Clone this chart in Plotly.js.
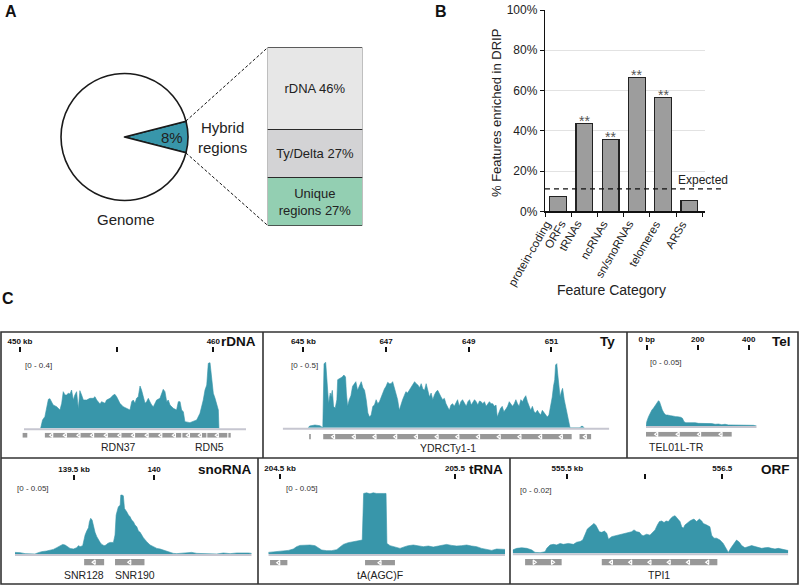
<!DOCTYPE html>
<html><head><meta charset="utf-8">
<script src="https://cdn.plot.ly/plotly-3.0.1.min.js"></script>
<style>html,body{margin:0;padding:0;background:#fff;} #chart{width:800px;height:586px;}</style>
</head><body><div id="chart"></div>
<script>
// ---------------- Panel A data ----------------
const genomeLabels = ['Hybrid regions', 'Rest of genome'];
const genomeValues = [8, 92];
const genomeText = '8%';
const hybridCats = ['Unique regions', 'Ty/Delta', 'rDNA'];
const hybridValues = [27, 27, 46];
const hybridText = ['Unique<br>regions 27%', 'Ty/Delta 27%', 'rDNA 46%'];

// ---------------- Panel B data ----------------
const featureCats = ['protein-coding<br>ORFs', 'tRNAs', 'ncRNAs', 'sn/snoRNAs', 'telomeres', 'ARSs'];
const featurePct = [7.3, 43.7, 35.8, 66.6, 56.6, 5.3];
const featureSig = ['', '**', '**', '**', '**', ''];
const expectedPct = 11.1;
const pctTicks = [0, 20, 40, 60, 80, 100];

// ---------------- Panel C data ----------------
const rdnaKb = [451.07,451.17,451.29,451.47,451.55,451.64,451.72,451.90,452.07,452.16,452.24,452.33,452.41,452.50,452.59,452.67,452.76,452.84,452.93,453.02,453.10,453.19,453.28,453.45,453.62,453.79,453.88,453.97,454.14,454.22,454.40,454.48,454.66,454.83,454.91,455.00,455.09,455.17,455.34,455.52,455.69,455.78,455.86,455.95,456.03,456.12,456.21,456.29,456.38,456.47,456.55,456.64,456.72,456.81,456.90,456.98,457.07,457.24,457.33,457.41,457.50,457.59,457.67,457.76,457.93,458.10,458.19,458.28,458.36,458.45,458.53,458.79,459.14,459.31,459.48,459.57,459.66,459.74,459.83,459.91,460.00,460.09,460.17,460.26,460.29];
const rdnaSignal = [0,0.05,0.07,0.174,0.178,0.16,0.14,0.13,0.11,0.15,0.22,0.20,0.20,0.21,0.206,0.23,0.17,0.20,0.22,0.116,0.226,0.20,0.17,0.17,0.18,0.18,0.19,0.17,0.146,0.16,0.15,0.17,0.18,0.20,0.204,0.19,0.17,0.15,0.13,0.12,0.11,0.16,0.17,0.15,0.18,0.19,0.254,0.23,0.18,0.15,0.16,0.18,0.16,0.14,0.13,0.15,0.17,0.18,0.21,0.234,0.22,0.16,0.17,0.14,0.12,0.11,0.16,0.16,0.11,0.10,0.04,0.034,0.05,0.09,0.17,0.23,0.26,0.39,0.394,0.29,0.21,0.18,0.14,0.11,0];
const rdnaTickVals = [450, 455, 460];
const rdnaTickText = ['450 kb', '', '460'];
const rdnaGeneStart = [450.14, 451.29, 458.40, 459.69, 460.78];
const rdnaGeneEnd = [450.38, 458.34, 459.64, 460.72, 460.90];
const rdnaGeneStrand = ['', '-', '-', '-', ''];
const rdnaLabels = ['RDN37', 'RDN5'];
const rdnaLabelKb = [455.09, 459.79];

const tyKb = [645.12,645.15,645.28,645.40,645.47,645.50,645.54,645.56,645.59,645.61,645.65,645.67,645.70,645.73,645.77,645.81,645.83,645.89,645.94,645.98,646.02,646.04,646.07,646.11,646.15,646.19,646.23,646.27,646.31,646.35,646.40,646.44,646.48,646.52,646.56,646.60,646.64,646.68,646.72,646.76,646.80,646.84,646.88,646.92,646.96,647.00,647.04,647.08,647.12,647.16,647.20,647.24,647.28,647.32,647.36,647.40,647.44,647.48,647.52,647.56,647.60,647.65,647.69,647.73,647.77,647.81,647.85,647.89,647.93,647.97,648.01,648.05,648.09,648.13,648.17,648.21,648.25,648.29,648.33,648.37,648.41,648.45,648.49,648.53,648.57,648.61,648.65,648.69,648.73,648.77,648.81,648.85,648.90,648.94,648.98,649.02,649.06,649.10,649.14,649.18,649.22,649.26,649.30,649.34,649.38,649.42,649.46,649.50,649.54,649.58,649.62,649.66,649.69,649.73,649.77,649.81,649.85,649.90,649.94,649.98,650.02,650.06,650.10,650.14,650.18,650.22,650.26,650.30,650.34,650.38,650.42,650.46,650.50,650.54,650.58,650.62,650.66,650.70,650.74,650.78,650.82,650.86,650.90,650.94,650.98,651.02,651.05,651.08,651.10,651.13,651.15,651.18,651.21,651.24,651.27,651.31,651.34,651.37,651.40,651.44,651.45,651.69,651.72,651.76,651.79];
const tySignal = [0,0.0125,0.02,0.015,0,0.48,0.49,0.38,0.21,0.18,0.26,0.23,0.28,0.16,0.145,0.21,0.36,0.37,0.38,0.395,0.38,0.26,0.16,0.21,0.24,0.31,0.33,0.345,0.28,0.31,0.345,0.30,0.28,0.21,0.11,0.08,0.095,0.16,0.17,0.21,0.18,0.195,0.23,0.27,0.29,0.31,0.34,0.33,0.33,0.345,0.30,0.26,0.21,0.13,0.18,0.21,0.24,0.27,0.26,0.28,0.31,0.33,0.345,0.33,0.32,0.30,0.33,0.29,0.28,0.33,0.27,0.23,0.26,0.21,0.245,0.27,0.28,0.25,0.23,0.21,0.22,0.18,0.16,0.13,0.17,0.18,0.16,0.19,0.21,0.16,0.195,0.21,0.18,0.16,0.195,0.21,0.17,0.195,0.21,0.195,0.17,0.20,0.195,0.18,0.195,0.16,0.18,0.195,0.18,0.18,0.16,0.17,0.08,0.12,0.145,0.16,0.12,0.14,0.16,0.195,0.18,0.16,0.18,0.21,0.18,0.16,0.21,0.195,0.22,0.24,0.195,0.16,0.13,0.16,0.12,0.11,0.13,0.11,0.095,0.13,0.11,0.095,0.08,0.095,0.16,0.23,0.31,0.36,0.47,0.48,0.41,0.31,0.23,0.27,0.295,0.21,0.16,0.11,0.06,0.0075,0,0,0.01,0.01,0];
const tyTickVals = [645, 647, 649, 651];
const tyTickText = ['645 kb', '647', '649', '651'];
const tyGeneStart = [645.14, 645.48, 651.68];
const tyGeneEnd = [645.18, 651.49, 651.96];
const tyGeneStrand = ['', '-', '-'];
const tyLabels = ['YDRCTy1-1'];
const tyLabelKb = [648.51];

const telBp = [-3,0,7,13,20,26,33,39,46,50,55,61,68,75,81,88,94,101,107,114,120,127,133,140,146,153,163,176,190,203,216,229,242,255,268,281,294,307,320,340,366,392,418,431];
const telSignal = [0,0.0033,0.0071,0.0096,0.0121,0.0134,0.0152,0.0172,0.0192,0.0184,0.0152,0.0121,0.0096,0.0083,0.0083,0.0083,0.0078,0.0076,0.0071,0.0071,0.0071,0.0071,0.0066,0.0058,0.0033,0.0025,0.0025,0.0028,0.0025,0.002,0.002,0.0018,0.0015,0.0018,0.0013,0.0015,0.001,0.0013,0.0008,0.0008,0.0008,0.0005,0.0005,0];
const telTickVals = [0, 200, 400];
const telTickText = ['0 bp', '200', '400'];
const telGeneStart = [-3];
const telGeneEnd = [333];
const telGeneStrand = ['-'];
const telLabels = ['TEL01L-TR'];
const telLabelBp = [0];

const snoKb = [139.131,139.163,139.194,139.225,139.256,139.277,139.298,139.329,139.350,139.371,139.392,139.413,139.429,139.444,139.458,139.475,139.496,139.517,139.527,139.538,139.554,139.563,139.569,139.579,139.590,139.596,139.604,139.613,139.621,139.631,139.642,139.652,139.663,139.673,139.688,139.700,139.710,139.725,139.746,139.756,139.763,139.771,139.777,139.788,139.792,139.800,139.808,139.815,139.823,139.829,139.840,139.850,139.860,139.871,139.881,139.892,139.902,139.913,139.923,139.933,139.954,139.975,139.996,140.017,140.038,140.058,140.079,140.100,140.121,140.142,140.173,140.204,140.235,140.267,140.308,140.350,140.392,140.433,140.475,140.517,140.558,140.590,140.610];
const snoSignal = [0.0013,0.0011,0.0003,0,0,0.0011,0.0019,0.0024,0.0029,0.0037,0.0051,0.0067,0.0077,0.0072,0.0059,0.0045,0.004,0.0051,0.0067,0.0059,0.0067,0.0139,0.0152,0.0184,0.0211,0.0259,0.0286,0.0272,0.0219,0.0174,0.0139,0.0112,0.0093,0.0077,0.0067,0.0072,0.0085,0.0093,0.0093,0.0152,0.0312,0.0352,0.0379,0.0392,0.0473,0.0473,0.0467,0.0366,0.0352,0.0339,0.0312,0.0299,0.0272,0.0259,0.0232,0.0219,0.0184,0.0174,0.0152,0.0131,0.0099,0.0072,0.0059,0.0045,0.004,0.0032,0.0024,0.0013,0.0005,0.0003,0.0005,0.0011,0.0013,0.0005,0.0003,0.0003,0,0.0008,0.0003,0.0008,0.0011,0.0008,0.0005];
const snoTickVals = [139.5, 140];
const snoTickText = ['139.5 kb', '140'];
const snoGeneStart = [139.563, 139.756];
const snoGeneEnd = [139.688, 139.940];
const snoGeneStrand = ['-', '-'];
const snoLabels = ['SNR128', 'SNR190'];
const snoLabelKb = [139.563, 139.881];

const trnaKb = [204.433,204.471,204.510,204.548,204.576,204.595,204.614,204.643,204.671,204.700,204.719,204.738,204.767,204.795,204.824,204.843,204.862,204.890,204.919,204.948,204.970,204.978,204.995,205.014,205.033,205.052,205.071,205.090,205.106,205.111,205.129,205.157,205.186,205.214,205.233,205.262,205.290,205.319,205.348,205.376,205.405,205.433,205.452,205.481,205.510,205.538,205.567,205.595,205.624,205.652,205.681,205.710,205.738,205.767,205.786];
const trnaSignal = [0.0013,0.0019,0.0021,0.0029,0.004,0.0059,0.0069,0.0072,0.0072,0.0067,0.0051,0.0032,0.0027,0.0027,0.0035,0.0056,0.0077,0.0091,0.0099,0.0104,0.0112,0.0486,0.0491,0.0483,0.0491,0.0486,0.0489,0.0486,0.0486,0.0085,0.0067,0.0056,0.0045,0.0059,0.0067,0.0072,0.0067,0.0059,0.0064,0.0056,0.0064,0.0072,0.0077,0.0069,0.0064,0.0067,0.0072,0.0064,0.0059,0.0045,0.0035,0.0029,0.004,0.0035,0.0037];
const trnaTickVals = [204.5, 205.5];
const trnaTickText = ['204.5 kb', '205.5'];
const trnaGeneStart = [204.443, 204.986];
const trnaGeneEnd = [204.542, 205.157];
const trnaGeneStrand = ['-', '-'];
const trnaLabels = ['tA(AGC)F'];
const trnaLabelKb = [205.071];

const orfKb = [555.147,555.173,555.205,555.238,555.270,555.291,555.324,555.356,555.367,555.388,555.410,555.431,555.453,555.474,555.506,555.539,555.560,555.582,555.599,555.614,555.629,555.646,555.663,555.672,555.685,555.694,555.706,555.722,555.739,555.754,555.765,555.786,555.808,555.829,555.851,555.872,555.894,555.915,555.930,555.947,555.965,555.980,555.990,556.012,556.033,556.051,556.066,556.081,556.094,556.109,556.124,556.137,556.152,556.167,556.180,556.195,556.205,556.216,556.227,556.238,556.248,556.259,556.270,556.291,556.302,556.317,556.334,556.352,556.367,556.377,556.399,556.420,556.431,556.446,556.463,556.485,556.506,556.528,556.539,556.554,556.571,556.592,556.610,556.625,556.646,556.668,556.689,556.711,556.732,556.754,556.775,556.797,556.818,556.840,556.861,556.883,556.904,556.926];
const orfSignal = [0.0011,0.0016,0.0018,0.0016,0.0011,0.0003,0.0002,0.0005,0.0016,0.0027,0.0029,0.0027,0.0032,0.0029,0.0032,0.0029,0.0036,0.0038,0.0043,0.0059,0.0079,0.0086,0.0092,0.0097,0.009,0.0079,0.007,0.0068,0.0072,0.0065,0.0046,0.0054,0.0057,0.0059,0.0062,0.0065,0.0068,0.007,0.0076,0.007,0.0068,0.0059,0.0057,0.0062,0.0059,0.0068,0.0076,0.0092,0.0103,0.0105,0.01,0.0105,0.0103,0.0113,0.0119,0.0122,0.0116,0.0108,0.0103,0.0086,0.0081,0.0092,0.0097,0.0105,0.0108,0.0111,0.0103,0.0111,0.0105,0.0097,0.0092,0.0086,0.0059,0.0049,0.0049,0.0043,0.0032,0.0011,0.0003,0.0016,0.0029,0.0043,0.0036,0.0025,0.0018,0.0021,0.0025,0.0022,0.0018,0.0016,0.0018,0.0019,0.0016,0.0014,0.0016,0.0013,0.0011,0.0009];
const orfTickVals = [555.5, 556, 556.5];
const orfTickText = ['555.5 kb', '', '556.5'];
const orfGeneStart = [555.227, 555.722];
const orfGeneEnd = [555.463, 556.468];
const orfGeneStrand = ['+', '-'];
const orfLabels = ['TPI1'];
const orfLabelKb = [556.094];

// ---------------- drawing ----------------
const W = 800, H = 586;
const px = v => v / W;
const py = v => 1 - v / H;
const TEAL = '#3896aa';
const FONT = 'Liberation Sans, Arial, Helvetica, sans-serif';

const data = [];
const shapes = [];
const annotations = [];
const layout = {
  width: W, height: H,
  margin: {l: 0, r: 0, t: 0, b: 0},
  paper_bgcolor: '#ffffff', plot_bgcolor: 'rgba(0,0,0,0)',
  font: {family: FONT, color: '#222'},
  showlegend: false, hovermode: false, barmode: 'stack',
  shapes: shapes, annotations: annotations
};
function ann(text, x, y, size, extra) {
  annotations.push(Object.assign({text: text, x: px(x), y: py(y), xref: 'paper', yref: 'paper',
    showarrow: false, xanchor: 'center', yanchor: 'middle', font: {size: size, color: '#222', family: FONT}}, extra || {}));
}

// ---- Panel A ----
ann('<b>A</b>', 11, 12, 16, {font: {size: 16, color: '#111', family: FONT}});
data.push({type: 'pie', values: genomeValues, labels: genomeLabels, sort: false, direction: 'clockwise',
  rotation: 90 - genomeValues[0] / 100 * 180,
  marker: {colors: [TEAL, '#ffffff'], line: {color: '#1a1a1a', width: 1.6}},
  textinfo: 'none', hoverinfo: 'skip', showlegend: false,
  domain: {x: [px(61), px(188)], y: [py(201), py(73)]}});
ann(genomeText, 172, 137, 15);
ann('Hybrid<br>regions', 222, 137, 15);
ann('Genome', 126, 219, 15);
const hybridColors = ['#93cfb2', '#d3d3d5', '#e7e7e7'];
hybridCats.forEach((c, i) => data.push({type: 'bar', x: ['Hybrid regions'], y: [hybridValues[i]], name: c,
  text: [hybridText[i]], textposition: 'inside', insidetextanchor: 'middle', textangle: 0, constraintext: 'none',
  textfont: {size: 13, color: '#222', family: FONT},
  marker: {color: hybridColors[i], line: {color: '#2a2a2a', width: 1.3}}, width: 1,
  xaxis: 'x', yaxis: 'y', hoverinfo: 'skip', showlegend: false}));
layout.xaxis = {domain: [px(267.7), px(362.3)], range: [-0.5, 0.5], visible: false, fixedrange: true};
layout.yaxis = {domain: [py(225.7), py(47.3)], range: [0, 100], visible: false, fixedrange: true};
const dashA = {color: '#111', width: 1, dash: '3px,2px'};
shapes.push({type: 'line', xref: 'paper', yref: 'paper', x0: px(186), y0: py(121), x1: px(268), y1: py(47.3), line: dashA});
shapes.push({type: 'line', xref: 'paper', yref: 'paper', x0: px(186), y0: py(153), x1: px(268), y1: py(225.7), line: dashA});

// ---- Panel B ----
ann('<b>B</b>', 441, 12, 16, {font: {size: 16, color: '#111', family: FONT}});
data.push({type: 'bar', x: featureCats, y: featurePct, xaxis: 'x2', yaxis: 'y2', width: 0.64,
  marker: {color: '#9d9d9d', line: {color: '#222', width: 1.3}}, hoverinfo: 'skip', showlegend: false});
layout.xaxis2 = {domain: [px(545), px(705)], anchor: 'y2', type: 'category', range: [-0.5, 5.6],
  showline: true, linecolor: '#111', linewidth: 1.2, ticks: 'outside', tickson: 'boundaries', ticklen: 4,
  tickcolor: '#111', showticklabels: false, showgrid: false, fixedrange: true};
layout.yaxis2 = {domain: [py(211.3), py(10)], anchor: 'x2', range: [0, 100], tickvals: pctTicks,
  ticktext: pctTicks.map(v => v + '%'), showline: true, linecolor: '#111', linewidth: 1.2, ticks: 'outside',
  ticklen: 4, tickcolor: '#111', tickfont: {size: 12, color: '#222', family: FONT},
  showgrid: true, gridcolor: '#e2e2e2', gridwidth: 1, zeroline: false, fixedrange: true};
// rotated category labels (each line ends just below the axis)
featureCats.forEach((c, i) => {
  const lines = c.split('<br>');
  lines.forEach((line, j) => annotations.push({text: line, xref: 'x2', yref: 'paper', x: c,
    y: py(216), xanchor: 'right', yanchor: 'top', xshift: lines.length > 1 ? -2 + 14 * j : 2, textangle: -60,
    showarrow: false, font: {size: 11.5, color: '#222', family: FONT}}));
});
shapes.push({type: 'line', xref: 'paper', yref: 'y2', x0: px(545), x1: px(721), y0: expectedPct, y1: expectedPct,
  line: {color: '#111', width: 1.2, dash: '5px,4px'}});
annotations.push({text: 'Expected', xref: 'paper', yref: 'y2', x: px(703), y: expectedPct, xanchor: 'center',
  yanchor: 'bottom', yshift: 0, showarrow: false, font: {size: 12, color: '#222', family: FONT}});
featureSig.forEach((s, i) => {
  if (s) annotations.push({text: s, xref: 'x2', yref: 'y2', x: featureCats[i], y: featurePct[i], xanchor: 'center',
    yanchor: 'bottom', yshift: -8, showarrow: false, font: {size: 14, color: '#555', family: FONT}});
});
ann('% Features enriched in DRIP', 497, 113, 13, {textangle: -90});
ann('Feature Category', 611, 290, 14);

// ---- Panel C ----
ann('<b>C</b>', 8, 298, 16, {font: {size: 16, color: '#111', family: FONT}});
const frame = {color: '#333', width: 1.6};
shapes.push({type: 'rect', xref: 'paper', yref: 'paper', x0: px(1), x1: px(798), y0: py(584), y1: py(332), line: frame});
shapes.push({type: 'line', xref: 'paper', yref: 'paper', x0: px(1), x1: px(798), y0: py(458), y1: py(458), line: frame});
[263, 627].forEach(v => shapes.push({type: 'line', xref: 'paper', yref: 'paper', x0: px(v), x1: px(v), y0: py(332), y1: py(458), line: frame}));
[258, 510].forEach(v => shapes.push({type: 'line', xref: 'paper', yref: 'paper', x0: px(v), x1: px(v), y0: py(458), y1: py(584), line: frame}));

const tracks = [
  {title: 'rDNA', x: rdnaKb, y: rdnaSignal, d0: 18.0, d1: 246, range: [449.9, 461.69], bl: [450.21, 461.69],
   base: 428.3, top: 361.7, ymax: 0.4,
   tickBase: 352, tv: rdnaTickVals, tt: rdnaTickText, scale: '[0 - 0.4]', sx: 23, sy: 365, tx: 258, ty: 341,
   gs: rdnaGeneStart, ge: rdnaGeneEnd, gd: rdnaGeneStrand, g0: 432.7, g1: 437.7, chev: 14,
   labels: rdnaLabels, lx: rdnaLabelKb, ly: 447, lanchor: 'center'},
  {title: 'Ty', x: tyKb, y: tySignal, d0: 282.7, d1: 609.3, range: [644.50, 652.40], bl: [644.50, 652.40],
   base: 427.7, top: 361, ymax: 0.5,
   tickBase: 352, tv: tyTickVals, tt: tyTickText, scale: '[0 - 0.5]', sx: 289, sy: 365, tx: 617, ty: 341,
   gs: tyGeneStart, ge: tyGeneEnd, gd: tyGeneStrand, g0: 434, g1: 439.5, chev: 20,
   labels: tyLabels, lx: tyLabelKb, ly: 448, lanchor: 'center'},
  {title: 'Tel', x: telBp, y: telSignal, d0: 646, d1: 756.7, range: [-3, 431], bl: [-3, 431],
   base: 426, top: 360, ymax: 0.05,
   tickBase: 350, tv: telTickVals, tt: telTickText, scale: '[0 - 0.05]', sx: 648, sy: 362, tx: 793, ty: 341,
   gs: telGeneStart, ge: telGeneEnd, gd: telGeneStrand, g0: 431.7, g1: 436.7, chev: 20,
   labels: telLabels, lx: telLabelBp, ly: 447, lanchor: 'left'},
  {title: 'snoRNA', x: snoKb, y: snoSignal, d0: 15, d1: 251.7, range: [139.131, 140.610], bl: [139.131, 140.610],
   base: 554, top: 491.7, ymax: 0.05,
   tickBase: 480, tv: snoTickVals, tt: snoTickText, scale: '[0 - 0.05]', sx: 15, sy: 488, tx: 253, ty: 469,
   gs: snoGeneStart, ge: snoGeneEnd, gd: snoGeneStrand, g0: 559, g1: 565.5, chev: 20,
   labels: snoLabels, lx: snoLabelKb, ly: 575, lanchor: 'center'},
  {title: 'tRNA', x: trnaKb, y: trnaSignal, d0: 268.3, d1: 505, range: [204.433, 205.786], bl: [204.433, 205.786],
   base: 554, top: 491.7, ymax: 0.05,
   tickBase: 479, tv: trnaTickVals, tt: trnaTickText, scale: '[0 - 0.05]', sx: 284, sy: 488, tx: 505, ty: 469,
   gs: trnaGeneStart, ge: trnaGeneEnd, gd: trnaGeneStrand, g0: 560, g1: 565.5, chev: 20,
   labels: trnaLabels, lx: trnaLabelKb, ly: 575, lanchor: 'center'},
  {title: 'ORF', x: orfKb, y: orfSignal, d0: 512.7, d1: 788.3, range: [555.147, 556.926], bl: [555.147, 556.926],
   base: 553.3, top: 491.7, ymax: 0.02,
   tickBase: 479, tv: orfTickVals, tt: orfTickText, scale: '[0 - 0.02]', sx: 518, sy: 490, tx: 792, ty: 469,
   gs: orfGeneStart, ge: orfGeneEnd, gd: orfGeneStrand, g0: 559, g1: 565.5, chev: 20,
   labels: orfLabels, lx: orfLabelKb, ly: 575, lanchor: 'center'}
];

tracks.forEach((t, i) => {
  const n = i + 3, gn = i + 9;
  const xa = 'x' + n, ya = 'y' + n, ga = 'y' + gn;
  layout['xaxis' + n] = {domain: [px(t.d0), px(t.d1)], range: t.range, anchor: 'free', position: py(t.tickBase),
    side: 'top', showgrid: false, zeroline: false, showline: false, ticks: 'outside', ticklen: 5, tickwidth: 2,
    tickcolor: '#111', tickvals: t.tv, ticktext: t.tt,
    tickfont: {size: 8, color: '#111', family: FONT, weight: 'bold'}, fixedrange: true};
  layout['yaxis' + n] = {domain: [py(t.base), py(t.top)], range: [0, t.ymax], visible: false, anchor: xa, fixedrange: true};
  layout['yaxis' + gn] = {domain: [py(t.g1), py(t.g0)], range: [0, 1], visible: false, anchor: xa, fixedrange: true};
  shapes.push({type: 'line', xref: xa, yref: 'paper', x0: t.bl[0], x1: t.bl[1], y0: py(t.base + 1), y1: py(t.base + 1),
    line: {color: '#c6c6d0', width: 2}, layer: 'below'});
  data.push({type: 'scatter', mode: 'lines', x: t.x, y: t.y, xaxis: xa, yaxis: ya, fill: 'tozeroy',
    fillcolor: TEAL, line: {color: TEAL, width: 0.6}, hoverinfo: 'skip', showlegend: false});
  // genes: bars through the track x scale, strand chevrons as markers
  const span = t.range[1] - t.range[0], dpx = t.d1 - t.d0;
  const chevX = [], chevSym = [];
  t.gs.forEach((s, j) => {
    const e = t.ge[j];
    shapes.push({type: 'rect', xref: xa, yref: ga, x0: s, x1: e, y0: 0, y1: 1,
      fillcolor: '#989898', line: {width: 0}, layer: 'below'});
    if (t.gd[j]) {
      const wpx = (e - s) / span * dpx;
      const k = Math.max(1, Math.round(wpx / t.chev));
      for (let c = 0; c < k; c++) {
        chevX.push(s + (c + 0.5) * (e - s) / k);
        chevSym.push(t.gd[j] === '-' ? 'triangle-left-open' : 'triangle-right-open');
      }
    }
  });
  data.push({type: 'scatter', mode: 'markers', x: chevX, y: chevX.map(() => 0.5), xaxis: xa, yaxis: ga,
    marker: {symbol: chevSym, size: 4, color: '#ffffff', line: {color: '#ffffff', width: 1.2}},
    hoverinfo: 'skip', showlegend: false, cliponaxis: false});
  t.labels.forEach((lab, j) => annotations.push({text: lab, xref: xa, yref: 'paper', x: t.lx[j], y: py(t.ly),
    xanchor: t.lanchor, yanchor: 'middle', showarrow: false, font: {size: 10.5, color: '#222', family: FONT}}));
  ann(t.scale, t.sx, t.sy, 8, {xanchor: 'left', font: {size: 8, color: '#333', family: FONT}});
  ann('<b>' + t.title + '</b>', t.tx, t.ty, 13, {xanchor: 'right', font: {size: 13.5, color: '#111', family: FONT}});
});

Plotly.newPlot('chart', data, layout, {staticPlot: true, displayModeBar: false});
</script>
</body></html>
